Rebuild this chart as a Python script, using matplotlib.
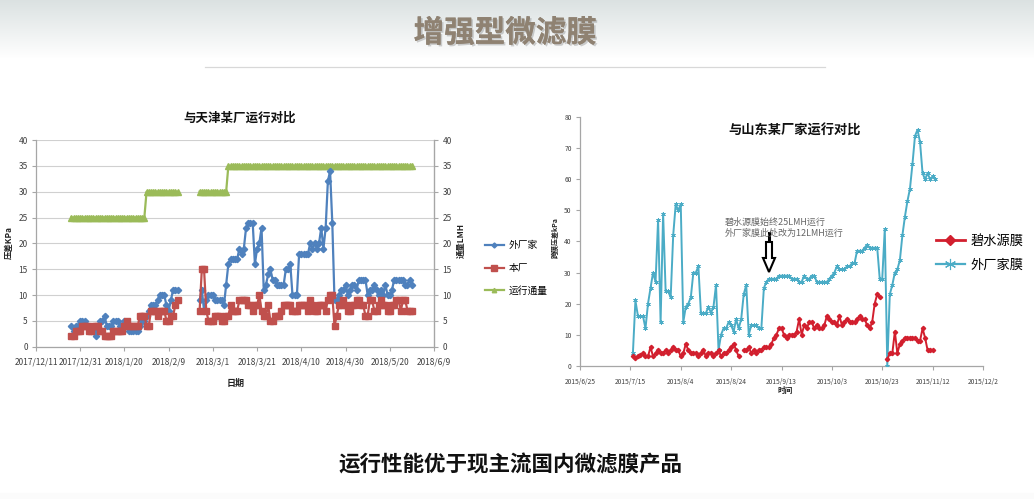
import numpy as np
import pandas as pd
import matplotlib
matplotlib.use('Agg')
import matplotlib.pyplot as plt
import matplotlib.dates as mdates
from matplotlib.ticker import FuncFormatter, MultipleLocator
from matplotlib.lines import Line2D
from matplotlib.patches import Polygon
import matplotlib.patheffects as pe

plt.rcParams['font.family'] = ['Noto Sans CJK SC', 'DejaVu Sans']

# ---------------- data: left chart (Tianjin) ----------------
tj_seg1_start = '2017-12-27'
tj_seg2_start = '2018-02-23'
tj_blue_seg1 = [4, 3, 4, 4, 5, 5, 5, 4, 4, 3, 3, 2, 3, 5, 5, 6, 4, 4, 4, 5,
                5, 5, 4, 4, 5, 4, 3, 3, 3, 3, 3, 4, 5, 5, 6, 7, 8, 8, 8, 9,
                10, 10, 10, 8, 7, 9, 11, 11, 11]
tj_red_seg1 = [2, 2, 3, 3, 3, 4, 4, 4, 3, 3, 4, 4, 4, 3, 3, 2, 2, 2, 2, 3,
               3, 3, 3, 3, 4, 5, 4, 4, 4, 4, 4, 6, 6, 6, 4, 4, 7, 7, 7, 6,
               7, 7, 7, 5, 5, 6, 6, 8, 9]
tj_green_seg1 = [25] * 34 + [30] * 15
tj_blue_seg2 = [9, 11, 7, 9, 10, 10, 10, 9, 9, 9, 9, 8, 12, 16, 17, 17, 17, 17, 19, 18,
                19, 23, 24, 24, 24, 16, 19, 20, 23, 11, 12, 14, 15, 13, 13, 12, 12, 12, 12, 15,
                15, 16, 10, 10, 10, 18, 18, 18, 18, 18, 20, 19, 20, 19, 20, 23, 19, 23, 32, 34,
                24, 9, 9, 10, 11, 11, 12, 10, 11, 12, 12, 11, 13, 13, 13, 13, 10, 11, 11, 12,
                11, 10, 11, 10, 12, 10, 10, 11, 13, 13, 13, 13, 13, 12, 12, 13, 12]
tj_red_seg2 = [7, 15, 15, 7, 5, 5, 5, 6, 6, 6, 5, 5, 6, 6, 8, 7, 7, 7, 9, 9,
               9, 9, 8, 8, 7, 8, 8, 10, 7, 6, 6, 8, 5, 5, 6, 6, 6, 7, 8, 8,
               8, 8, 7, 7, 7, 8, 8, 8, 8, 7, 9, 8, 7, 7, 8, 8, 8, 7, 9, 10,
               10, 4, 6, 8, 8, 9, 8, 7, 7, 8, 8, 9, 9, 8, 8, 6, 6, 9, 9, 7,
               7, 8, 9, 8, 8, 7, 7, 8, 8, 9, 9, 7, 9, 9, 7, 7, 7]
tj_green_seg2 = [30] * 13 + [35] * 84
tj_xticks = ['2017-12-11', '2017-12-31', '2018-01-20', '2018-02-09', '2018-03-01',
             '2018-03-21', '2018-04-10', '2018-04-30', '2018-05-20', '2018-06-09']
tj_labels = ['外厂家', '本厂', '运行通量']

# ---------------- data: right chart (Shandong) ----------------
sd_start = '2015-07-16'
sd_other = [4, 21, 16, 16, 16, 12, 20, 25, 30, 27,
            47, 14, 49, 24, 24, 22, 42, 52, 50, 52,
            14, 19, 20, 22, 30, 30, 32, 17, 17, 17,
            19, 17, 19, 26, 5, 10, 12, 12, 14, 13,
            11, 15, 12, 15, 23, 26, 10, 13, 13, 13,
            12, 12, 25, 27, 28, 28, 28, 28, 29, 29,
            29, 29, 29, 28, 28, 28, 27, 27, 29, 28,
            28, 29, 29, 27, 27, 27, 27, 27, 28, 29,
            30, 32, 31, 31, 31, 32, 32, 33, 33, 37,
            37, 37, 38, 39, 38, 38, 38, 38, 28, 28,
            44, 0, 23, 26, 30, 31, 34, 42, 48, 53,
            57, 65, 74, 76, 72, 62, 60, 62, 60, 61, 60]
nan = np.nan
sd_bsy = [3, 2.5, 3, 3.5, 4, 3, 3, 6, 3, 4,
          5, 4, 4, 5, 4, 5, 6, 5, 5, 3,
          4, 7, 5, 4, 4, 4, 3, 4, 5, 3,
          4, 4, 3, 4, 5, 3, 4, 4, 5, 6,
          7, 5, 3, nan, 5, 5, 6, 4, 5, 4,
          5, 5, 6, 6, 6, 7, 9, 10, 12, 12,
          10, 9, 10, 10, 10, 11, 15, 10, 13, 12,
          14, 14, 12, 13, 12, 12, 13, 16, 15, 14,
          14, 13, 16, 13, 14, 15, 14, 14, 14, 15,
          16, 15, 15, 13, 12, 14, 20, 23, 22, nan,
          nan, 2, 4, 4, 11, 4, 7, 8, 9, 9,
          9, 9, 9, 8, 8, 12, 9, 5, 5, 5]
sd_xticks = ['2015-06-25', '2015-07-15', '2015-08-04', '2015-08-24', '2015-09-13',
             '2015-10-03', '2015-10-23', '2015-11-12', '2015-12-02']
sd_labels = ['碧水源膜', '外厂家膜']

# ---------------- figure ----------------
W, H = 1034, 499
fig = plt.figure(figsize=(W / 100, H / 100), dpi=100)


def fx(x):
    return x / W


def fy(y):
    return 1 - y / H


# background with header gradient
bg = fig.add_axes([0, 0, 1, 1], zorder=-10)
bg.set_axis_off()
grad = np.ones((H, 1, 3))
top = np.array([0.86, 0.885, 0.885])
for r in range(H):
    t = min(r / 58.0, 1.0)
    grad[r, 0, :] = (1 - t) * top + t * 1.0
    if r > 492:
        grad[r, 0, :] = 0.985
bg.imshow(grad, aspect='auto', extent=[0, 1, 0, 1])
bg.set_xlim(0, 1)
bg.set_ylim(0, 1)
bg.plot([fx(205), fx(825)], [fy(67), fy(67)], color='#d8d8d8', lw=0.9)

fig.text(fx(505), fy(33), '增强型微滤膜', ha='center', va='center', fontsize=22,
         fontweight='bold', color='#8f8272',
         path_effects=[pe.withSimplePatchShadow(offset=(1.2, -1.2), shadow_rgbFace='#666666', alpha=0.3),
                       pe.Normal()])
fig.text(fx(510), fy(465), '运行性能优于现主流国内微滤膜产品', ha='center', va='center',
         fontsize=15.5, fontweight='bold', color='#111111')


def date_fmt(v, p):
    d = mdates.num2date(v)
    return f"{d.year}/{d.month}/{d.day}"


# ---------------- left chart ----------------
d1 = pd.date_range(tj_seg1_start, periods=len(tj_blue_seg1))
d2 = pd.date_range(tj_seg2_start, periods=len(tj_blue_seg2))
gap = [d1[-1] + pd.Timedelta(days=1)]
tj_dates = list(d1) + gap + list(d2)
blue = list(tj_blue_seg1) + [nan] + list(tj_blue_seg2)
red = list(tj_red_seg1) + [nan] + list(tj_red_seg2)
green = list(tj_green_seg1) + [nan] + list(tj_green_seg2)

ax1 = fig.add_axes([fx(36), fy(346.7), fx(434) - fx(36), fy(140) - fy(346.7)])
ax1.set_facecolor('none')
lg, = ax1.plot(tj_dates, green, color='#9BBB59', lw=1.6, marker='^', ms=4, mec='#9BBB59', zorder=3)
lb, = ax1.plot(tj_dates, blue, color='#4F81BD', lw=1.6, marker='D', ms=3.2, mec='#4F81BD', zorder=4)
lr, = ax1.plot(tj_dates, red, color='#C0504D', lw=1.6, marker='s', ms=4.8, mec='#C0504D', zorder=5)
ax1.set_xlim(pd.Timestamp(tj_xticks[0]), pd.Timestamp(tj_xticks[-1]))
ax1.set_ylim(0, 40)
ax1.yaxis.set_major_locator(MultipleLocator(5))
ax1.set_xticks([pd.Timestamp(t) for t in tj_xticks])
ax1.xaxis.set_major_formatter(FuncFormatter(date_fmt))
ax1.grid(axis='y', color='#d0d0d0', lw=0.8)
ax1.set_axisbelow(True)
ax1.spines['top'].set_visible(False)
for s in ['left', 'right', 'bottom']:
    ax1.spines[s].set_color('#a6a6a6')
    ax1.spines[s].set_linewidth(0.9)
ax1.tick_params(axis='both', labelsize=6, colors='#404040', length=3, width=0.8, direction='out', pad=3)
ax1.tick_params(axis='x', pad=5)
ax1.tick_params(color='#a6a6a6')
ax1b = ax1.twinx()
ax1b.set_ylim(0, 40)
ax1b.yaxis.set_major_locator(MultipleLocator(5))
ax1b.tick_params(axis='y', labelsize=6, colors='#404040', length=3, width=0.8, direction='out', pad=3)
ax1b.tick_params(color='#a6a6a6')
for s in ['top', 'left', 'bottom']:
    ax1b.spines[s].set_visible(False)
ax1b.spines['right'].set_color('#a6a6a6')

fig.text(fx(240), fy(118), '与天津某厂运行对比', ha='center', va='center', fontsize=9, fontweight='bold', color='#111111')
fig.text(fx(236), fy(383), '日期', ha='center', va='center', fontsize=6.5, fontweight='bold', color='#222222')
fig.text(fx(9), fy(243), '压差KPa', ha='center', va='center', rotation=90, fontsize=6, fontweight='bold', color='#222222')
fig.text(fx(461), fy(240), '通量LMH', ha='center', va='center', rotation=90, fontsize=6, fontweight='bold', color='#222222')

fig.legend([lb, lr, lg], tj_labels, loc='center left', bbox_to_anchor=(fx(476), fy(268)),
           frameon=False, fontsize=7, handlelength=2.0, labelspacing=1.3, handletextpad=0.5,
           markerscale=0.8)

# ---------------- right chart ----------------
sd_dates_o = pd.date_range(sd_start, periods=len(sd_other))
sd_dates_b = pd.date_range(sd_start, periods=len(sd_bsy))
ax2 = fig.add_axes([fx(580), fy(365.7), fx(983) - fx(580), fy(117.3) - fy(365.7)])
ax2.set_facecolor('none')
lc, = ax2.plot(sd_dates_o, sd_other, color='#4BACC6', lw=1.4, marker=(6, 2, 0), ms=3.2, mew=0.6, zorder=3)
lrr, = ax2.plot(sd_dates_b, sd_bsy, color='#D21F2E', lw=1.4, marker='D', ms=2.2, zorder=4)
ax2.set_xlim(pd.Timestamp(sd_xticks[0]), pd.Timestamp(sd_xticks[-1]))
ax2.set_ylim(0, 80)
ax2.yaxis.set_major_locator(MultipleLocator(10))
ax2.set_xticks([pd.Timestamp(t) for t in sd_xticks])
ax2.xaxis.set_major_formatter(FuncFormatter(date_fmt))
for s in ['top', 'right']:
    ax2.spines[s].set_visible(False)
for s in ['left', 'bottom']:
    ax2.spines[s].set_color('#a6a6a6')
    ax2.spines[s].set_linewidth(0.9)
ax2.tick_params(axis='both', labelsize=4.8, colors='#404040', length=3, width=0.8, direction='out', pad=3)
ax2.tick_params(axis='x', pad=6)
ax2.tick_params(color='#a6a6a6')

fig.text(fx(795), fy(131), '与山东某厂家运行对比', ha='center', va='center', fontsize=9.5, fontweight='bold', color='#111111')
fig.text(fx(785), fy(390), '时间', ha='center', va='center', fontsize=5.5, fontweight='bold', color='#222222')
fig.text(fx(555), fy(238), '跨膜压差kPa', ha='center', va='center', rotation=90, fontsize=5, fontweight='bold', color='#222222')

fig.text(fx(725), fy(222), '碧水源膜始终25LMH运行', ha='left', va='center', fontsize=6.5, color='#666666')
fig.text(fx(725), fy(233), '外厂家膜此处改为12LMH运行', ha='left', va='center', fontsize=6.5, color='#666666')

# hollow arrow
ax_ = 769
arrow_pts = [(ax_ - 3, 242), (ax_ + 3, 242), (ax_ + 3, 258), (ax_ + 6, 258), (ax_, 272),
             (ax_ - 6, 258), (ax_ - 3, 258)]
fig.patches.append(Polygon([(fx(x), fy(y)) for x, y in arrow_pts], closed=True, fc='white', ec='black',
                           lw=1.5, transform=fig.transFigure, figure=fig, zorder=10))
fig.lines.append(Line2D([fx(ax_), fx(ax_)], [fy(233), fy(242)], color='black', lw=2.2,
                        transform=fig.transFigure, figure=fig))

hb = Line2D([], [], color='#D21F2E', lw=2, marker='D', ms=5)
hc = Line2D([], [], color='#4BACC6', lw=1.6, marker=(6, 2, 0), ms=8, mew=0.8)
fig.legend([hb, hc], sd_labels, loc='center left', bbox_to_anchor=(fx(924), fy(253)),
           frameon=False, fontsize=9.5, handlelength=2.2, labelspacing=0.85, handletextpad=0.4)

fig.savefig('out.png', dpi=100)
